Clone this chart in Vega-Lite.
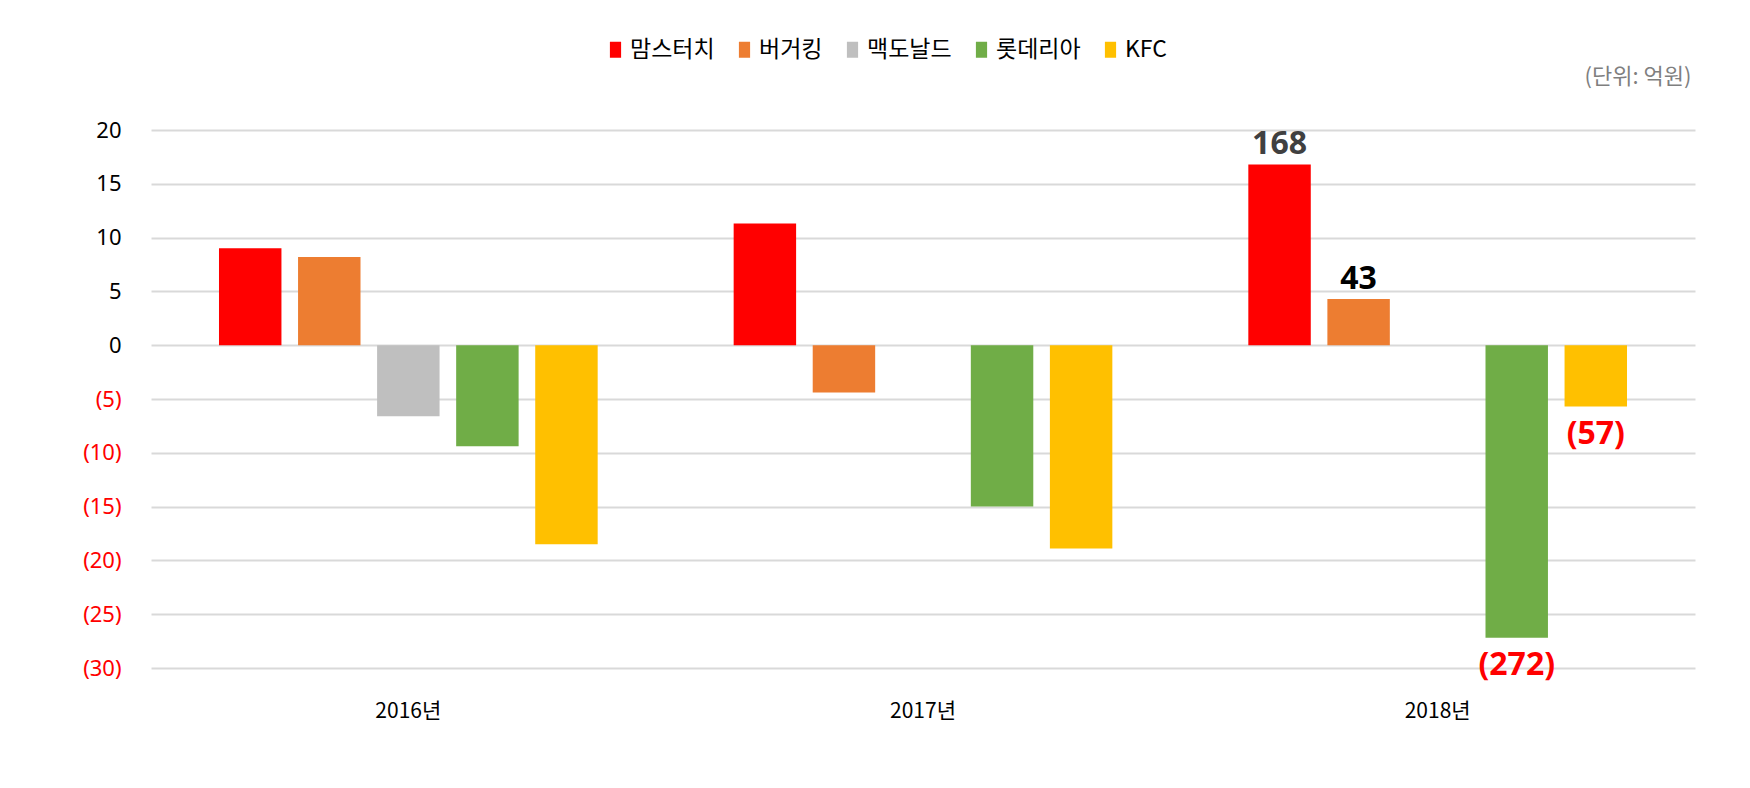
{
  "$schema": "https://vega.github.io/schema/vega-lite/v6.json",
  "autosize": {"type": "none"},
  "padding": {"left": 151, "top": 130, "right": 55, "bottom": 120},
  "width": 1544,
  "height": 538,
  "background": "white",
  "data": {
    "values": [
      {"year": "2016년", "brand": "맘스터치", "value": 90},
      {"year": "2016년", "brand": "버거킹", "value": 82},
      {"year": "2016년", "brand": "맥도날드", "value": -66},
      {"year": "2016년", "brand": "롯데리아", "value": -94},
      {"year": "2016년", "brand": "KFC", "value": -185},
      {"year": "2017년", "brand": "맘스터치", "value": 113},
      {"year": "2017년", "brand": "버거킹", "value": -44},
      {"year": "2017년", "brand": "롯데리아", "value": -150},
      {"year": "2017년", "brand": "KFC", "value": -189},
      {"year": "2018년", "brand": "맘스터치", "value": 168},
      {"year": "2018년", "brand": "버거킹", "value": 43},
      {"year": "2018년", "brand": "롯데리아", "value": -272},
      {"year": "2018년", "brand": "KFC", "value": -57}
    ]
  },
  "encoding": {
    "x": {
      "field": "year",
      "type": "nominal",
      "title": null,
      "scale": {"paddingInner": 0, "paddingOuter": 0},
      "axis": {
        "orient": "bottom",
        "labelAngle": 0,
        "labelFont": "Noto Sans CJK KR",
        "labelFontSize": 21,
        "labelColor": "black",
        "labelPadding": 32,
        "domain": false,
        "ticks": false,
        "grid": false
      }
    },
    "xOffset": {
      "field": "brand",
      "type": "nominal",
      "scale": {
        "domain": ["맘스터치", "버거킹", "맥도날드", "롯데리아", "KFC"],
        "paddingInner": 0.21,
        "paddingOuter": 0.86
      }
    },
    "y": {
      "field": "value",
      "type": "quantitative",
      "title": "(단위: 억원)",
      "scale": {"domain": [-300, 200], "nice": false, "zero": true},
      "axis": {
        "values": [-300, -250, -200, -150, -100, -50, 0, 50, 100, 150, 200],
        "labelExpr": "datum.value < 0 ? '(' + (-datum.value / 10) + ')' : '' + (datum.value / 10)",
        "labelColor": {"condition": {"test": "datum.value < 0", "value": "#ff0000"}, "value": "#000000"},
        "labelFont": "Noto Sans",
        "labelFontSize": 22,
        "labelPadding": 30,
        "domain": false,
        "ticks": false,
        "grid": true,
        "gridColor": "#d9d9d9",
        "gridWidth": 2,
        "titleAngle": 0,
        "titleX": 1540,
        "titleY": -54,
        "titleAlign": "right",
        "titleBaseline": "middle",
        "titleColor": "#7f7f7f",
        "titleFont": "Noto Sans CJK KR",
        "titleFontSize": 22,
        "titleFontWeight": "normal"
      }
    }
  },
  "layer": [
    {
      "mark": {"type": "bar"},
      "encoding": {
        "color": {
          "field": "brand",
          "type": "nominal",
          "scale": {
            "domain": ["맘스터치", "버거킹", "맥도날드", "롯데리아", "KFC"],
            "range": ["#ff0000", "#ed7d31", "#bfbfbf", "#70ad47", "#ffc000"]
          },
          "legend": {
            "orient": "none",
            "legendX": 453,
            "legendY": -92,
            "direction": "horizontal",
            "title": null,
            "symbolType": "M-0.7,-1H0.7V1H-0.7Z",
            "symbolSize": 256,
            "symbolStrokeWidth": 0,
            "labelFont": "Noto Sans CJK KR",
            "labelFontSize": 23,
            "labelColor": "black",
            "labelOffset": 3,
            "columnPadding": 18,
            "padding": 0
          }
        }
      }
    },
    {
      "transform": [{"filter": "datum.year == '2018년' && datum.value > 0"}],
      "mark": {"type": "text", "dy": -20, "baseline": "middle", "font": "Noto Sans", "fontSize": 32, "fontWeight": "bold"},
      "encoding": {
        "text": {"field": "value", "type": "quantitative", "format": "(d"},
        "color": {"condition": {"test": "datum.brand == '맘스터치'", "value": "#404040"}, "value": "#000000"}
      }
    },
    {
      "transform": [{"filter": "datum.year == '2018년' && datum.value < 0"}],
      "mark": {"type": "text", "dy": 27, "baseline": "middle", "font": "Noto Sans", "fontSize": 32, "fontWeight": "bold", "color": "#ff0000"},
      "encoding": {
        "text": {"field": "value", "type": "quantitative", "format": "(d"}
      }
    }
  ],
  "config": {
    "view": {"stroke": null}
  }
}
